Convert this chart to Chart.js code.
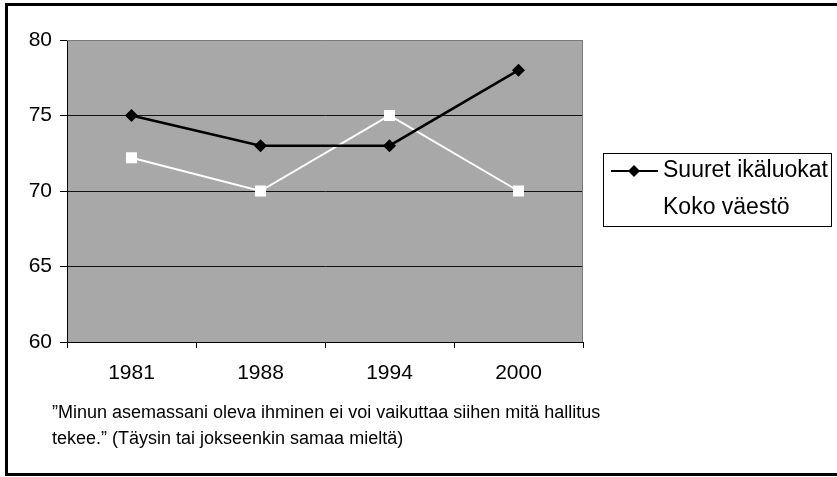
<!DOCTYPE html>
<html>
<head>
<meta charset="utf-8">
<script src="https://cdn.jsdelivr.net/npm/chart.js@4/dist/chart.umd.min.js"></script>
<style>
  body { margin: 0; background: #fff; }
  canvas { display: block; }
</style>
</head>
<body>
<canvas id="chart" width="837" height="477"></canvas>
<script>
const years = ["1981", "1988", "1994", "2000"];
const suuretIkaluokat = [75, 73, 73, 78];
const kokoVaesto = [72.2, 70, 75, 70];
const yTicks = [60, 65, 70, 75, 80];
const captionLines = [
    "\u201dMinun asemassani oleva ihminen ei voi vaikuttaa siihen mitä hallitus",
    "tekee.\u201d (Täysin tai jokseenkin samaa mieltä)"
];

const FONT = "'Liberation Sans', Arial, sans-serif";

// gray plot background + outer frame
const backdrop = {
    id: "backdrop",
    beforeDraw(chart) {
        const { ctx, chartArea: a } = chart;
        ctx.save();
        ctx.fillStyle = "#fff";
        ctx.fillRect(0, 0, chart.width, chart.height);
        ctx.fillStyle = "#a8a8a8";
        ctx.fillRect(a.left, a.top, a.right - a.left, a.bottom - a.top);
        ctx.restore();
    },
    beforeDatasetsDraw(chart) {
        const { ctx, chartArea: a } = chart;
        ctx.save();
        ctx.strokeStyle = "#7a7a7a";
        ctx.lineWidth = 1;
        ctx.beginPath();
        ctx.moveTo(a.left, a.top + 0.5);
        ctx.lineTo(a.right - 0.5, a.top + 0.5);
        ctx.lineTo(a.right - 0.5, a.bottom);
        ctx.stroke();
        ctx.restore();
    },
    afterDraw(chart) {
        const { ctx } = chart;
        ctx.save();
        ctx.strokeStyle = "#000";
        ctx.lineWidth = 3;
        ctx.strokeRect(6.5, 4.5, 840, 470);

        // caption
        ctx.fillStyle = "#000";
        ctx.font = "18px " + FONT;
        ctx.textBaseline = "middle";
        ctx.textAlign = "left";
        captionLines.forEach((t, i) => ctx.fillText(t, 52, 413 + i * 26));

        // legend
        ctx.lineWidth = 1;
        ctx.strokeRect(603.5, 153.5, 228, 73);
        ctx.font = "23px " + FONT;
        chart.data.datasets.forEach((ds, i) => {
            const y = 171 + i * 37;
            ctx.strokeStyle = ds.borderColor;
            ctx.fillStyle = ds.borderColor;
            ctx.lineWidth = 2;
            ctx.beginPath();
            ctx.moveTo(611, y);
            ctx.lineTo(658, y);
            ctx.stroke();
            const r = 6;
            ctx.beginPath();
            if (ds.pointStyle === "rectRot") {
                ctx.moveTo(634 - r, y);
                ctx.lineTo(634, y - r);
                ctx.lineTo(634 + r, y);
                ctx.lineTo(634, y + r);
                ctx.closePath();
            } else {
                ctx.rect(634 - 5, y - 5, 10, 10);
            }
            ctx.fill();
            ctx.fillStyle = "#000";
            ctx.fillText(ds.label, 663, y);
        });
        ctx.restore();
    }
};

new Chart(document.getElementById("chart"), {
    type: "line",
    data: {
        labels: years,
        datasets: [
            {
                label: "Suuret ikäluokat",
                data: suuretIkaluokat,
                borderColor: "#000",
                backgroundColor: "#000",
                borderWidth: 2.5,
                pointStyle: "rectRot",
                pointRadius: 6.5,
                pointBorderWidth: 0,
                tension: 0
            },
            {
                label: "Koko väestö",
                data: kokoVaesto,
                borderColor: "#fff",
                backgroundColor: "#fff",
                borderWidth: 2,
                pointStyle: "rect",
                pointRadius: 7.8,
                pointBorderWidth: 0,
                tension: 0
            }
        ]
    },
    options: {
        responsive: false,
        animation: false,
        layout: { padding: { left: 0, top: 40, right: 254, bottom: 95 } },
        plugins: {
            legend: { display: false },
            tooltip: { enabled: false }
        },
        scales: {
            x: {
                offset: true,
                afterFit: (s) => { s.height = 40; },
                grid: { offset: true, drawOnChartArea: false, tickLength: 6, color: "#000" },
                border: { color: "#000", width: 1 },
                ticks: { color: "#000", padding: 13, font: { size: 21, family: FONT } }
            },
            y: {
                min: 60,
                max: 80,
                afterFit: (s) => { s.width = 67; },
                afterBuildTicks: (s) => { s.ticks = yTicks.map((v) => ({ value: v })); },
                grid: {
                    color: (c) => (c.tick && c.tick.value === 80 ? "rgba(0,0,0,0)" : "#111"),
                    tickColor: "#000",
                    tickLength: 7
                },
                border: { color: "#000", width: 1 },
                ticks: { color: "#000", padding: 8, font: { size: 21, family: FONT } }
            }
        }
    },
    plugins: [backdrop]
});
</script>
</body>
</html>
